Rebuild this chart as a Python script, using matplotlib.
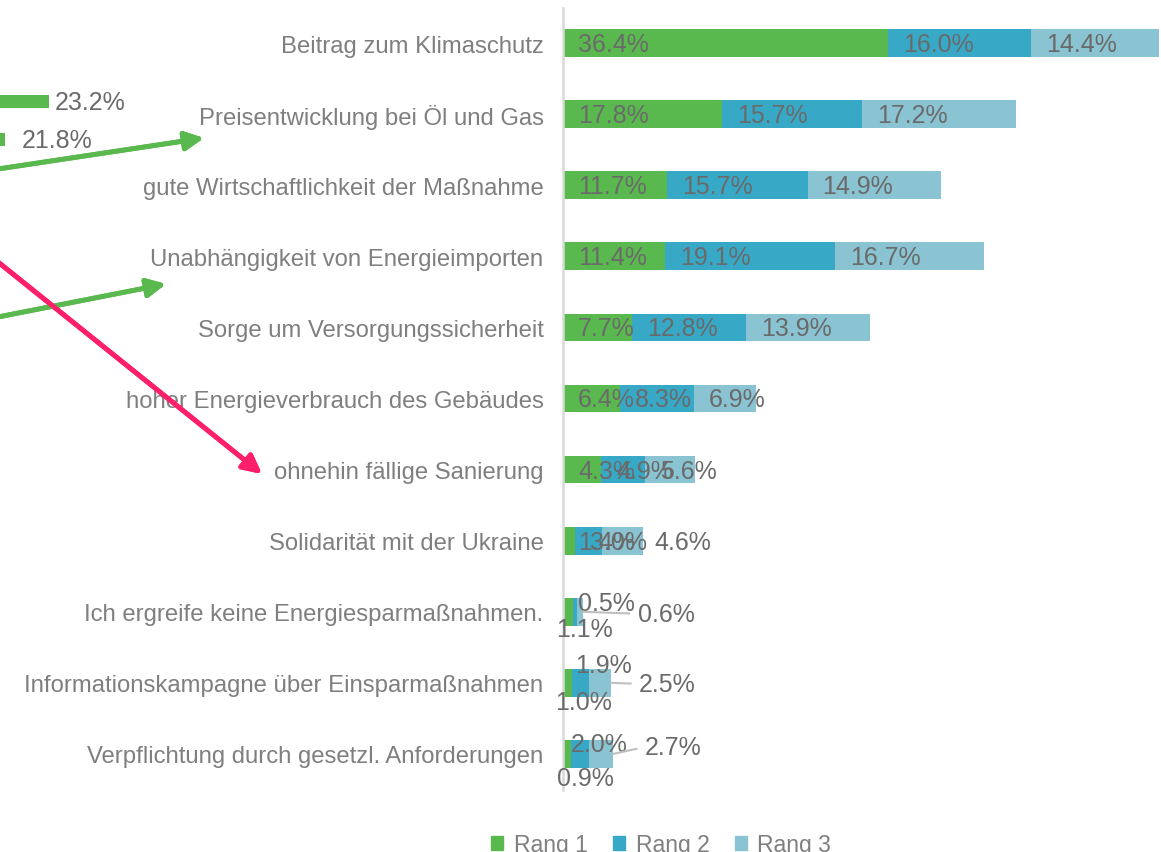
import matplotlib.pyplot as plt
from matplotlib.patches import Patch

plt.rcParams['font.family'] = ['Liberation Sans', 'DejaVu Sans']

kategorien = [
    'Beitrag zum Klimaschutz',
    'Preisentwicklung bei Öl und Gas',
    'gute Wirtschaftlichkeit der Maßnahme',
    'Unabhängigkeit von Energieimporten',
    'Sorge um Versorgungssicherheit',
    'hoher Energieverbrauch des Gebäudes',
    'ohnehin fällige Sanierung',
    'Solidarität mit der Ukraine',
    'Ich ergreife keine Energiesparmaßnahmen.',
    'Informationskampagne über Einsparmaßnahmen',
    'Verpflichtung durch gesetzl. Anforderungen',
]
rang1 = [36.4, 17.8, 11.7, 11.4, 7.7, 6.4, 4.3, 1.4, 1.1, 1.0, 0.9]
rang2 = [16.0, 15.7, 15.7, 19.1, 12.8, 8.3, 4.9, 3.0, 0.5, 1.9, 2.0]
rang3 = [14.4, 17.2, 14.9, 16.7, 13.9, 6.9, 5.6, 4.6, 0.6, 2.5, 2.7]
serien = ['Rang 1', 'Rang 2', 'Rang 3']

# angeschnittenes Nachbardiagramm links
links_werte = [23.2, 21.8]

farben = ['#5ab94e', '#37a9c7', '#8ac3d1']
grau_text = '#7f7f7f'
grau_wert = '#6a6a6a'
fs_wert = 18
fs_kat = 17.2

W, H = 1161, 853
fig = plt.figure(figsize=(W / 100, H / 100), dpi=100)

# Hauptdiagramm
ax = fig.add_axes([563 / W, 1 - 790.5 / H, 1 - 563 / W, 782 / H])
y = list(range(len(kategorien)))
links = [0.0] * len(kategorien)
for werte, farbe, name in zip([rang1, rang2, rang3], farben, serien):
    ax.barh(y, werte, left=links, height=0.39, color=farbe, label=name)
    for i, (l, v) in enumerate(zip(links, werte)):
        if i >= 8:
            continue
        dx = 52 if (i == 7 and name == 'Rang 3') else 15
        ax.annotate(f'{v:.1f}%', xy=(l, i), xytext=(dx, -1), textcoords='offset pixels',
                    ha='left', va='center', fontsize=fs_wert, color=grau_wert)
    links = [l + v for l, v in zip(links, werte)]

# kleine Werte mit versetzten Beschriftungen
versatz = {
    (8, 0): (17, -17), (8, 1): (31, 9),
    (9, 0): (16, -19), (9, 1): (23, 18),
    (10, 0): (18, -24), (10, 1): (19, 10),
}
fuehrung = {8: (55, -2), 9: (28, -1), 10: (32, 7)}
for i in range(8, 11):
    start = 0.0
    for k, werte in enumerate([rang1, rang2, rang3]):
        v = werte[i]
        if k < 2:
            dx, dy = versatz[(i, k)]
            ax.annotate(f'{v:.1f}%', xy=(start + v / 2, i), xytext=(dx, dy),
                        textcoords='offset pixels', ha='center', va='center',
                        fontsize=fs_wert, color=grau_wert)
        else:
            dx, dy = fuehrung[i]
            ax.annotate(f'{v:.1f}%', xy=(start + v, i), xytext=(dx, dy),
                        textcoords='offset pixels', ha='left', va='center',
                        fontsize=fs_wert, color=grau_wert,
                        arrowprops=dict(arrowstyle='-', color='#bfbfbf', lw=1.5,
                                        relpos=(0, 0.5), shrinkA=4, shrinkB=0))
        start += v

ax.set_xlim(0, 67)
ax.set_ylim(len(kategorien) - 0.5, -0.5)
ax.set_yticks(y)
ax.set_yticklabels(kategorien, fontsize=fs_kat, color=grau_text)
ax.tick_params(axis='y', length=0, pad=14)
ax.set_xticks([])
for s in ['top', 'right', 'bottom']:
    ax.spines[s].set_visible(False)
ax.spines['left'].set_color('#d9d9d9')
ax.spines['left'].set_linewidth(1.8)

handles = [Patch(color=f) for f in farben]
fig.legend(handles, serien, loc='center', bbox_to_anchor=(661 / W, 7 / H), ncol=3,
           frameon=False, fontsize=16.5, handlelength=0.55, handleheight=0.55,
           handletextpad=0.45, columnspacing=1.1, labelcolor=grau_text)

# linker Rest
ax2 = fig.add_axes([0, 1 - 160 / H, 130 / W, 80 / H])
x0 = 21.8 - 5 / 31.4
ax2.barh([0, 1], links_werte, height=0.34, color=farben[0])
for j, (v, dx) in enumerate(zip(links_werte, [6, 17])):
    ax2.annotate(f'{v:.1f}%', xy=(v, j), xytext=(dx, -1), textcoords='offset pixels',
                 ha='left', va='center', fontsize=fs_wert, color=grau_wert,
                 annotation_clip=False)
ax2.set_xlim(x0, x0 + 130 / 31.4)
ax2.set_ylim(1 + 19.5 / 38, -22.5 / 38)
ax2.axis('off')

# Pfeile
pfeile = [
    ((-2, 683), (204, 714), '#5ab94e'),
    ((-2, 535), (166, 568), '#5ab94e'),
    ((-2, 590), (262, 378), '#ff1f6b'),
]
for start, ende, farbe in pfeile:
    fig.add_artist(plt.annotate('', xy=ende, xytext=start, xycoords='figure pixels',
                                textcoords='figure pixels',
                                arrowprops=dict(arrowstyle='-|>', lw=3.5, color=farbe,
                                                mutation_scale=28, shrinkA=0, shrinkB=0)))

fig.savefig('out.png', dpi=100)
